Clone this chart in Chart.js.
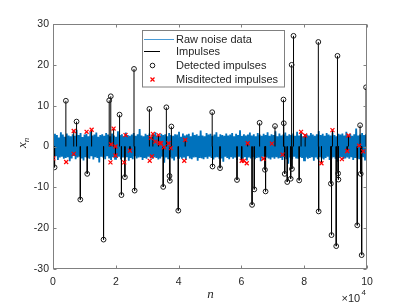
<!DOCTYPE html>
<html>
<head>
<meta charset="utf-8">
<script src="https://cdn.jsdelivr.net/npm/chart.js@4.4.0/dist/chart.umd.min.js"></script>
<style>
  html, body { margin: 0; padding: 0; background: #fff; }
  #wrap { width: 407px; height: 305px; }
</style>
</head>
<body>
<div id="wrap"><canvas id="myChart" width="407" height="305"></canvas></div>
<script>
'use strict';

// raw noise samples, spread evenly over n = 0 .. 100000
const noiseY = [
  2.6,-2.9,3.1,-2.4,2.8,-3.3,2.2,-2.7,3.5,-2.5,2.9,-3.0,2.4,-2.8,3.2,-2.6,2.7,-3.6,2.5,-2.9,
  3.0,-2.3,2.6,-3.1,4.1,-2.7,2.8,-2.5,3.3,-2.9,2.3,-3.4,2.9,-2.6,3.1,-2.8,2.5,-3.0,3.6,-2.4,
  2.7,-3.2,2.9,-2.6,3.4,-2.8,2.4,-3.9,2.8,-2.5,3.0,-2.7,2.6,-3.1,3.3,-2.4,2.9,-2.9,2.5,-3.3,
  3.2,-2.6,2.7,-3.0,2.4,-2.8,3.7,-2.5,2.8,-3.2,3.0,-2.7,2.5,-2.9,3.4,-2.6,2.8,-3.5,2.6,-2.8,
  2.9,-3.1,3.3,-2.4,2.6,-2.9,3.0,-2.7,4.3,-2.6,2.7,-3.3,2.5,-2.8,3.1,-3.0,2.8,-2.5,3.2,-2.7,
  2.4,-3.0,2.9,-2.6,3.5,-2.8,2.7,-3.2,2.6,-2.9,3.1,-2.5,2.8,-4.0,3.0,-2.7,2.5,-3.1,3.3,-2.6,
  2.8,-2.9,2.6,-3.4,3.0,-2.5,2.9,-2.8,3.6,-2.6,2.4,-3.0,3.2,-2.7,2.7,-3.3,2.9,-2.4,3.1,-2.9,
  2.5,-3.1,3.4,-2.7,2.8,-2.6,3.0,-3.5,2.6,-2.8,3.9,-2.9,2.7,-3.1,2.5,-2.6,3.3,-3.0,2.9,-2.5,
  3.1,-2.8,2.6,-3.2,2.9,-2.7,3.5,-2.6,2.4,-3.0,3.0,-2.9,2.8,-3.7,2.6,-2.5,3.2,-2.8,2.7,-3.1,
  2.9,-2.6,3.3,-3.0,2.5,-2.7,3.1,-3.3,2.8,-2.5,4.0,-2.8,2.6,-3.0,3.0,-2.6,2.7,-3.4,2.9,-2.7,
  3.4,-2.9,2.7,-2.6,3.0,-3.1,2.5,-2.8,3.3,-2.7,2.9,-3.6,2.6,-2.5,3.1,-3.0,2.8,-2.7,3.5,-2.9,
  2.6,-3.2,3.0,-2.7,2.8,-3.0,3.7,-2.6,2.5,-2.9,3.2,-2.8,2.7,-3.3,2.9,-2.6,3.4,-3.1,2.6,-4.2,
  3.0,-2.7,2.8,-3.1,3.2,-2.5,2.6,-2.9,3.6,-3.0,2.7,-2.6,3.1,-2.8,2.5,-3.4,3.0,-2.7,2.9,-3.0,
  2.7,-2.8,3.3,-2.6,2.9,-3.5,2.6,-2.7,3.0,-3.1,3.8,-2.6,2.8,-2.9,3.1,-3.2,2.6,-2.8,3.3,-2.5,
  2.9,-3.3,2.7,-2.9,3.4,-2.6,2.8,-3.0,2.5,-3.7,3.1,-2.8,2.9,-2.6,3.2,-3.1,2.7,-2.9,3.6,-2.7,
  2.8,-3.0,3.1,-2.6,2.6,-3.3,3.0,-2.8,4.4,-2.9,2.7,-3.1,2.9,-2.7,3.3,-2.6,2.8,-3.4,3.0,-2.8
];

// impulses that were detected (stem + circle)
const detN = [500, 4100, 7500, 8700, 10900, 16100, 17900, 18400, 21200, 21800, 22900, 25800, 26000,
  30700, 35100, 36100, 37100, 37200, 37700, 39900, 50700, 50800, 53200, 58600, 63400, 64100, 65800,
  67500, 67700, 70700, 73400, 73500, 73800, 74600, 75700, 76000, 76100, 76600, 78400, 84500, 84600,
  88500, 88700, 90200, 90600, 90800, 90900, 96900, 97800, 98000, 98300, 99700];
const detVal = [-5.1, 11.2, 6.1, -13.0, -6.7, -22.8, 11.3, 12.3, 7.8, -11.9, -7.5, 19.0, -10.8,
  9.2, -9.9, 9.6, -7.2, -8.4, 4.9, -15.7, 8.4, -4.9, -5.3, -8.2, -14.3, -10.5, 5.8,
  -5.7, -11.0, 5.0, 11.5, 5.7, -6.7, -8.7, -7.9, 20.0, -5.5, 27.1, -8.3, 25.6, -15.9,
  -9.1, -21.7, -24.4, 22.2, -6.6, -8.1, -19.3, 5.2, -6.7, -26.6, 14.5];

// small impulses hidden in the noise (stem only)
const smallN = [6600, 12300, 19300, 19900, 24500, 31800, 33600, 42100, 60100, 62000, 79000, 80300,
  85500, 89000, 93700, 94100];
const smallVal = [3.8, 4.1, 4.4, -2.2, -1.0, 3.1, 2.8, 1.6, -3.5, 0.8, 3.6, 2.7, -4.1, 4.0, -1.1, 2.7];

// misdetected impulses (red x)
const missN = [100, 4200, 6600, 6600, 10700, 12300, 18300, 18500, 19300, 19900, 19900, 22700, 23100,
  24500, 30800, 31100, 31500, 31800, 32600, 33600, 33900, 34400, 35300, 36800, 37500, 41800, 42100,
  60100, 60800, 61700, 62000, 67000, 69700, 73100, 79000, 80300, 85500, 89000, 92000, 93700, 94100,
  97500, 98800];
const missVal = [-2.9, -3.8, 3.8, -1.8, 3.6, 4.1, -3.9, 0.5, 4.4, 0.0, -2.2, -3.9, 2.8,
  -1.0, -3.5, 2.1, -2.4, 3.1, 1.2, 2.8, 0.8, 0.8, -0.2, 0.8, -0.4, -3.5, 1.6,
  -3.5, -3.5, -4.1, 0.8, -3.0, 0.7, -2.0, 3.6, 2.7, -4.1, 4.0, -3.1, -1.1, 2.7,
  0.2, -1.2];

const labels = ['Raw noise data', 'Impulses', 'Detected impulses', 'Misditected impulses'];

const blue = '#0072BD';
const axisGray = '#808080';
const textColor = '#262626';
const sans = '"Liberation Sans", Arial, Helvetica, sans-serif';

const noiseStep = 100000 / (noiseY.length - 1);
const noiseData = noiseY.map((v, i) => ({x: i * noiseStep, y: v}));

const stemData = [];
detN.concat(smallN).forEach((n, i) => {
  const v = detVal.concat(smallVal)[i];
  stemData.push({x: n, y: 0}, {x: n, y: v}, {x: n, y: null});
});

const detData = detN.map((n, i) => ({x: n, y: detVal[i]}));
const missData = missN.map((n, i) => ({x: n, y: missVal[i]}));

// legend icon styles, one per entry
const legendIcons = [
  {kind: 'line', color: '#4a9bd6', from: 144, to: 174},
  {kind: 'line', color: '#000000', from: 144, to: 160},
  {kind: 'circle', color: '#1a1a1a'},
  {kind: 'cross', color: '#ff0000'}
];

// box, inward ticks, axis titles, exponent label, legend
const frame = {
  id: 'frame',
  afterDatasetsDraw(chart) {
    const {ctx, chartArea: a, scales} = chart;
    const L = Math.round(a.left) + 0.5, R = Math.round(a.right) - 0.5;
    const T = Math.round(a.top) + 0.5, B = Math.round(a.bottom) - 0.5;
    ctx.save();
    ctx.strokeStyle = axisGray;
    ctx.lineWidth = 1;
    ctx.strokeRect(L, T, R - L, B - T);
    ctx.beginPath();
    scales.x.ticks.forEach(t => {
      const px = Math.round(scales.x.getPixelForValue(t.value)) + 0.5;
      ctx.moveTo(px, B); ctx.lineTo(px, B - 3);
      ctx.moveTo(px, T); ctx.lineTo(px, T + 3);
    });
    scales.y.ticks.forEach(t => {
      const py = Math.round(scales.y.getPixelForValue(t.value)) + 0.5;
      ctx.moveTo(L, py); ctx.lineTo(L + 3, py);
      ctx.moveTo(R, py); ctx.lineTo(R - 3, py);
    });
    ctx.stroke();
    ctx.restore();
  },
  afterDraw(chart) {
    const {ctx} = chart;
    ctx.save();
    ctx.fillStyle = textColor;
    ctx.textBaseline = 'alphabetic';

    // x axis title
    ctx.textAlign = 'center';
    ctx.font = 'italic 13px "Liberation Serif", serif';
    ctx.fillText('n', 210.5, 298);

    // y axis title x_n
    ctx.save();
    ctx.translate(26, 148);
    ctx.rotate(-Math.PI / 2);
    ctx.textAlign = 'left';
    ctx.font = 'italic 13px "Liberation Serif", serif';
    ctx.fillText('x', 0, 0);
    const w = ctx.measureText('x').width;
    ctx.font = 'italic 9px "Liberation Serif", serif';
    ctx.fillText('n', w, 2.5);
    ctx.restore();

    // x10^4
    ctx.textAlign = 'left';
    ctx.font = '11px ' + sans;
    ctx.fillText('\u00d710', 341.5, 302);
    ctx.font = '8px ' + sans;
    ctx.fillText('4', 361.5, 295);

    // legend
    const bx = 142.5, by = 30.5, bw = 142, bh = 56.5;
    ctx.fillStyle = '#ffffff';
    ctx.fillRect(bx, by, bw, bh);
    ctx.strokeStyle = axisGray;
    ctx.lineWidth = 1;
    ctx.strokeRect(bx, by, bw, bh);
    const rows = [39, 51, 65, 79];
    ctx.font = '11px ' + sans;
    ctx.fillStyle = textColor;
    ctx.textBaseline = 'middle';
    labels.forEach((lab, i) => ctx.fillText(lab, 176, rows[i] + 0.5));
    legendIcons.forEach((ic, i) => {
      const y = rows[i] + 0.5;
      ctx.strokeStyle = ic.color;
      ctx.lineWidth = 1;
      ctx.beginPath();
      if (ic.kind === 'line') {
        ctx.moveTo(ic.from, y); ctx.lineTo(ic.to, y);
      } else if (ic.kind === 'circle') {
        ctx.arc(152.5, y, 2.3, 0, Math.PI * 2);
      } else {
        ctx.lineWidth = 1.2;
        ctx.moveTo(150.5, y - 2); ctx.lineTo(154.5, y + 2);
        ctx.moveTo(154.5, y - 2); ctx.lineTo(150.5, y + 2);
      }
      ctx.stroke();
    });
    ctx.restore();
  }
};

const ctx = document.getElementById('myChart').getContext('2d');

new Chart(ctx, {
  type: 'line',
  data: {
    datasets: [
      {
        label: labels[0], data: noiseData, order: 4,
        borderColor: blue, borderWidth: 1.8, pointRadius: 0, tension: 0
      },
      {
        label: labels[1], data: stemData, order: 3, spanGaps: false,
        borderColor: '#000', borderWidth: 1, pointRadius: 0
      },
      {
        label: labels[2], data: detData, order: 2, showLine: false,
        pointStyle: 'circle', pointRadius: 2.4, pointBorderWidth: 1,
        pointBorderColor: '#1a1a1a', pointBackgroundColor: 'rgba(0,0,0,0)'
      },
      {
        label: labels[3], data: missData, order: 1, showLine: false,
        pointStyle: 'crossRot', pointRadius: 2.8, pointBorderWidth: 1.2,
        pointBorderColor: '#ff0000', borderColor: '#ff0000'
      }
    ]
  },
  options: {
    responsive: false,
    animation: false,
    events: [],
    layout: { padding: { top: 24, right: 40, left: 0, bottom: 0 } },
    plugins: { legend: { display: false }, tooltip: { enabled: false } },
    scales: {
      x: {
        type: 'linear', min: 0, max: 100000,
        afterFit: s => { s.height = 36; },
        grid: { display: false, drawTicks: false },
        border: { display: false },
        ticks: {
          stepSize: 20000, padding: 7, color: textColor,
          font: { family: sans, size: 10.5 },
          callback: v => String(v / 10000)
        }
      },
      y: {
        min: -30, max: 30,
        afterFit: s => { s.width = 53; },
        grid: { display: false, drawTicks: false },
        border: { display: false },
        ticks: {
          stepSize: 10, padding: 4, color: textColor,
          font: { family: sans, size: 10.5 },
          callback: v => String(v)
        }
      }
    }
  },
  plugins: [frame]
});
</script>
</body>
</html>
